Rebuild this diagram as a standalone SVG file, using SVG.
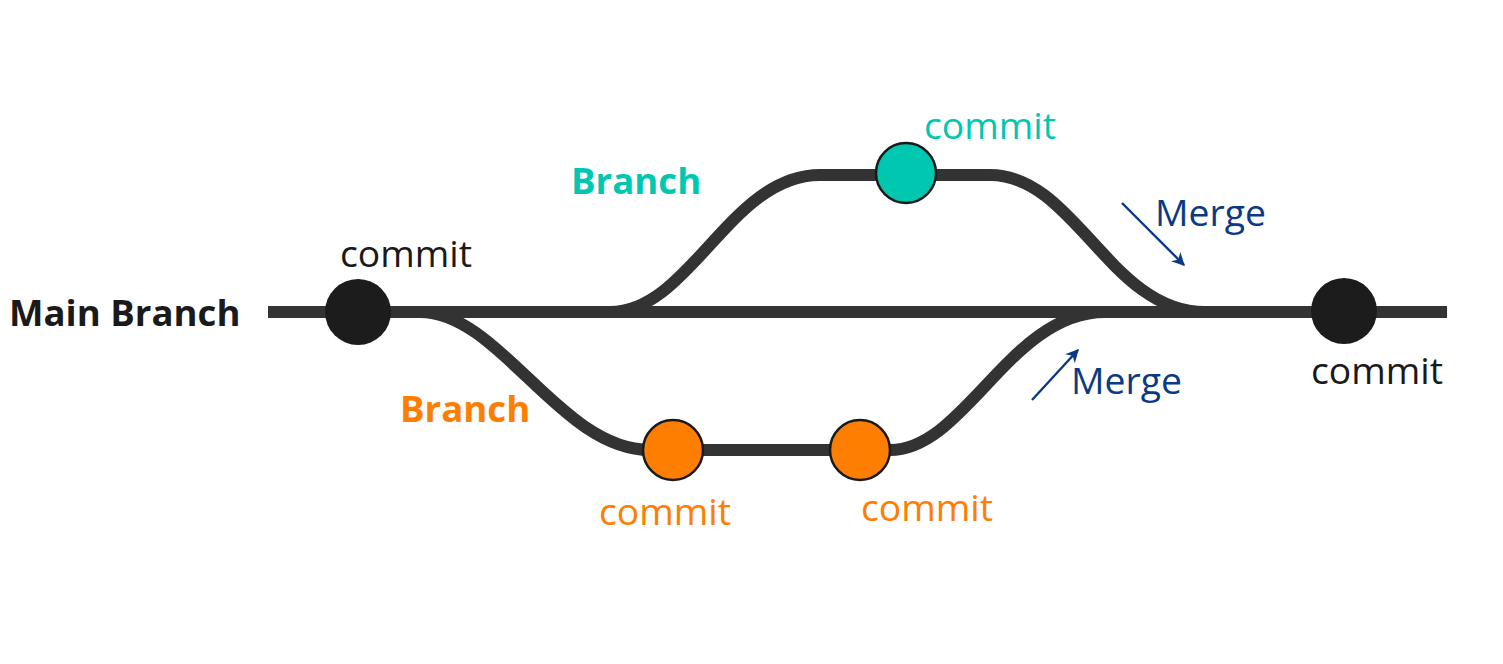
<svg xmlns="http://www.w3.org/2000/svg" width="1503" height="664" viewBox="0 0 1503 664">
<style>
.line{fill:none;stroke:#333333;stroke-width:12}
.arrow{fill:none;stroke:#0b3a84;stroke-width:2.4}
.t{font-family:"Open Sans","Noto Sans",sans-serif;font-size:37.3px}
.b{font-weight:bold;font-size:36.6px}
.blk{fill:#1a1a1a}
.teal{fill:#00c8b0}
.org{fill:#fd7e00}
.navy{fill:#0b3a84}
.dot{stroke:#1a1a1a;stroke-width:2.5}
</style>
<defs>
<marker id="ah" viewBox="0 0 10 10" refX="9" refY="5" markerWidth="5.5" markerHeight="5.5" orient="auto" markerUnits="strokeWidth">
<path d="M0,0 L10,5 L0,10 L3,5 Z" fill="#0b3a84"/>
</marker>
</defs>
<rect width="1503" height="664" fill="#ffffff"/>
<g id="connectors">
<path class="line" d="M610,312 C690,312 730,175 820,175 L990,175 C1075,175 1110,312 1205,312"/>
<path class="line" d="M420,312 C500,312 560,450 650,450 L890,450 C965,450 1010,312 1105,312"/>
<path class="line" d="M268,312 L1447,312"/>
<line class="arrow" x1="1122" y1="203" x2="1184" y2="265" marker-end="url(#ah)"/>
<line class="arrow" x1="1032" y1="400" x2="1078" y2="350" marker-end="url(#ah)"/>
</g>
<g id="main-label"><text class="t b blk" x="9" y="326">Main Branch</text></g>
<g id="commit-main-1">
<circle cx="358" cy="312" r="33" fill="#1c1c1c"/>
<text class="t blk" x="340" y="267">commit</text>
</g>
<g id="commit-main-2">
<circle cx="1344" cy="311" r="33" fill="#1c1c1c"/>
<text class="t blk" x="1311" y="384">commit</text>
</g>
<g id="branch-teal"><text class="t b teal" x="571" y="194">Branch</text></g>
<g id="commit-teal">
<circle class="dot" cx="906" cy="173" r="30" fill="#00c8b0"/>
<text class="t teal" x="924" y="139">commit</text>
</g>
<g id="branch-orange"><text class="t b org" x="400" y="422">Branch</text></g>
<g id="commit-orange-1">
<circle class="dot" cx="673" cy="450" r="30" fill="#fd7e00"/>
<text class="t org" x="599" y="525">commit</text>
</g>
<g id="commit-orange-2">
<circle class="dot" cx="860" cy="450" r="30" fill="#fd7e00"/>
<text class="t org" x="861" y="521">commit</text>
</g>
<g id="merge-upper"><text class="t navy" x="1155" y="226">Merge</text></g>
<g id="merge-lower"><text class="t navy" x="1071" y="394">Merge</text></g>
</svg>
